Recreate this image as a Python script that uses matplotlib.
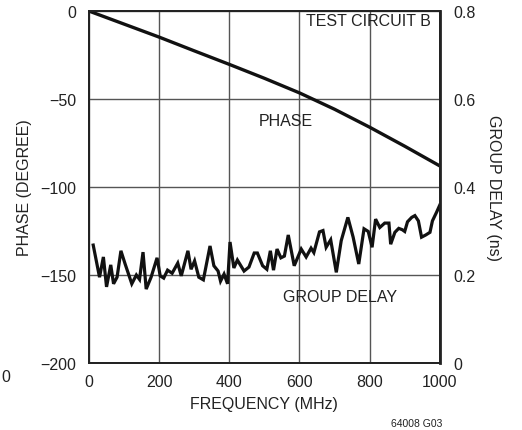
import matplotlib
matplotlib.use("Agg")
import matplotlib.pyplot as plt

plt.rcParams['font.family'] = ['Liberation Sans Narrow', 'Liberation Sans', 'DejaVu Sans']

# phase response (degrees) vs frequency (MHz)
phase_freq = [0, 100, 200, 300, 400, 500, 600, 700, 800, 900, 1000]
phase_deg = [0, -7.4, -14.8, -22.6, -30.3, -38.2, -46.5, -55.8, -66.0, -76.8, -88.0]

# group delay (ns) vs frequency (MHz)
gd_freq = [12, 30, 41, 50, 62, 70, 80, 91, 103, 122, 135, 144, 154, 163, 177,
           194, 203, 213, 224, 237, 253, 263, 282, 291, 301, 313, 326, 345, 356,
           368, 375, 385, 395, 402, 413, 423, 442, 456, 471, 480, 495, 507, 517,
           526, 536, 547, 557, 568, 585, 605, 619, 633, 641, 657, 667, 676, 689,
           705, 719, 738, 753, 769, 784, 796, 807, 817, 829, 843, 855, 860, 872,
           883, 893, 900, 908, 920, 929, 939, 948, 960, 972, 979, 991, 1000]
gd_ns = [0.268, 0.195, 0.241, 0.173, 0.223, 0.180, 0.195, 0.255, 0.225, 0.180,
         0.200, 0.190, 0.252, 0.168, 0.195, 0.239, 0.198, 0.193, 0.211, 0.204,
         0.227, 0.198, 0.255, 0.213, 0.232, 0.195, 0.189, 0.266, 0.221, 0.209,
         0.186, 0.202, 0.180, 0.275, 0.216, 0.234, 0.209, 0.218, 0.250, 0.250,
         0.221, 0.213, 0.255, 0.211, 0.259, 0.239, 0.243, 0.291, 0.221, 0.259,
         0.241, 0.261, 0.251, 0.298, 0.301, 0.263, 0.280, 0.206, 0.278, 0.331,
         0.286, 0.225, 0.305, 0.299, 0.263, 0.327, 0.308, 0.318, 0.318, 0.270,
         0.297, 0.306, 0.303, 0.299, 0.321, 0.331, 0.335, 0.323, 0.286, 0.291,
         0.297, 0.323, 0.343, 0.359]

x_ticks = [0, 200, 400, 600, 800, 1000]
phase_ticks = [0, -50, -100, -150, -200]
gd_ticks = [0, 0.2, 0.4, 0.6, 0.8]

fs = 11.5

fig = plt.figure(figsize=(5.22, 4.31), dpi=100)
ax = fig.add_axes([0.1705, 0.1555, 0.672, 0.8165])
ax2 = ax.twinx()

ax.plot(phase_freq, phase_deg, color='#111111', lw=2.4, solid_capstyle='butt')
ax2.plot(gd_freq, gd_ns, color='#111111', lw=2.3, solid_joinstyle='miter')

ax.set_xlim(0, 1000)
ax.set_ylim(-200, 0)
ax2.set_ylim(0, 0.8)
ax.set_xticks(x_ticks)
ax.set_yticks(phase_ticks)
ax.set_yticklabels(['0', '\u221250', '\u2212100', '\u2212150', '\u2212200'])
ax2.set_yticks(gd_ticks)
ax2.set_yticklabels(['0', '0.2', '0.4', '0.6', '0.8'])

ax.grid(True, color='#555555', lw=1.0)
ax.tick_params(axis='both', length=0, labelsize=fs, colors='#222222')
ax.tick_params(axis='x', pad=8)
ax.tick_params(axis='y', pad=9)
ax2.tick_params(axis='y', length=0, labelsize=fs, colors='#222222', pad=10)

for sp in list(ax.spines.values()) + list(ax2.spines.values()):
    sp.set_color('#222222')
    sp.set_linewidth(1.3)
ax2.spines['right'].set_linewidth(2.0)

ax.set_xlabel('FREQUENCY (MHz)', fontsize=fs, color='#222222', labelpad=5)
ax.set_ylabel('PHASE (DEGREE)', fontsize=fs, color='#222222', labelpad=6)
ax2.set_ylabel('GROUP DELAY (ns)', fontsize=fs, color='#222222',
               rotation=270, labelpad=18)

ax.text(975, -5.5, 'TEST CIRCUIT B', ha='right', va='center', fontsize=fs, color='#222222')
ax.text(560, -62, 'PHASE', ha='center', va='center', fontsize=fs, color='#222222')
ax2.text(715, 0.152, 'GROUP DELAY', ha='center', va='center', fontsize=fs, color='#222222')

fig.text(417 / 522, 1 - 424 / 431, '64008 G03', ha='center', va='center',
         fontsize=7.5, color='#222222')
fig.text(0.002, 1 - 378 / 431, '0', ha='left', va='center', fontsize=fs, color='#222222')

fig.savefig('out.png', dpi=100)
